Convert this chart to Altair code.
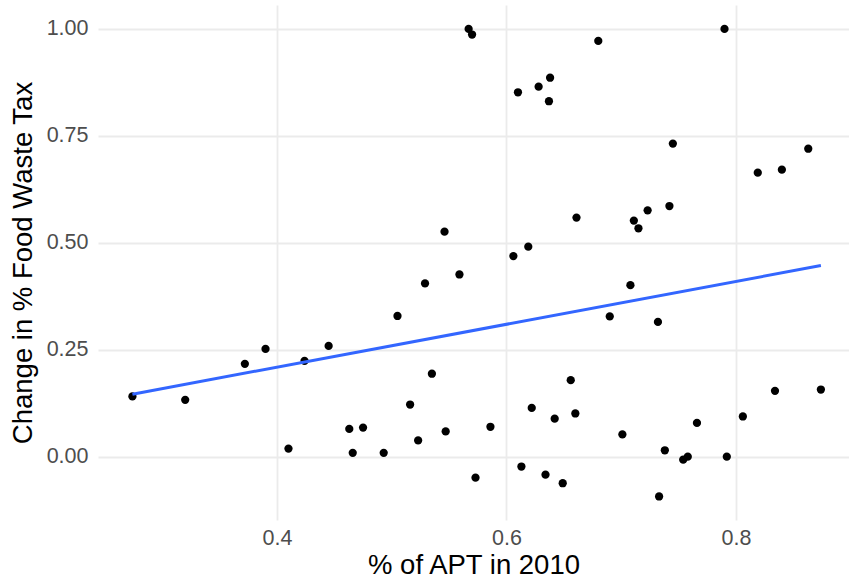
import altair as alt
import pandas as pd

# Share of apartments in 2010 (x) and change in food-waste tax share (y)
apt_2010 = [
    0.274, 0.320, 0.372, 0.390, 0.410, 0.424, 0.445, 0.463, 0.466, 0.475,
    0.493, 0.505, 0.516, 0.523, 0.529, 0.535, 0.546, 0.547, 0.559, 0.567,
    0.570, 0.573, 0.586, 0.606, 0.610, 0.613, 0.619, 0.622, 0.628, 0.634,
    0.637, 0.638, 0.642, 0.649, 0.656, 0.660, 0.661, 0.680, 0.690, 0.701,
    0.708, 0.711, 0.715, 0.723, 0.732, 0.733, 0.738, 0.742, 0.745, 0.754,
    0.758, 0.766, 0.790, 0.792, 0.806, 0.819, 0.834, 0.840, 0.863, 0.874,
]
tax_change = [
    0.141, 0.133, 0.217, 0.252, 0.019, 0.224, 0.259, 0.065, 0.009, 0.068,
    0.009, 0.329, 0.122, 0.038, 0.405, 0.194, 0.526, 0.059, 0.426, 1.000,
    0.987, -0.049, 0.070, 0.469, 0.852, -0.023, 0.491, 0.114, 0.865, -0.042,
    0.831, 0.886, 0.089, -0.062, 0.179, 0.101, 0.559, 0.972, 0.328, 0.052,
    0.401, 0.552, 0.534, 0.576, 0.315, -0.093, 0.015, 0.586, 0.732, -0.007,
    0.000, 0.079, 1.000, 0.000, 0.094, 0.664, 0.154, 0.671, 0.720, 0.157,
]

x_ticks = [0.4, 0.6, 0.8]
y_ticks = [0.0, 0.25, 0.5, 0.75, 1.0]

df = pd.DataFrame({"apt": apt_2010, "change": tax_change})

font = "Liberation Sans"

x_enc = alt.X(
    "apt:Q",
    title="% of APT in 2010",
    scale=alt.Scale(domain=[0.244, 0.8985], nice=False, zero=False),
    axis=alt.Axis(values=x_ticks, format=".1f", labelPadding=7, titlePadding=3),
)
y_enc = alt.Y(
    "change:Q",
    title="Change in % Food Waste Tax",
    scale=alt.Scale(domain=[-0.148, 1.056], nice=False, zero=False),
    axis=alt.Axis(values=y_ticks, format=".2f", labelPadding=10, titlePadding=9),
)

points = alt.Chart(df).mark_circle(size=68, color="black", opacity=1).encode(
    x=x_enc, y=y_enc
)

fit = (
    alt.Chart(df)
    .transform_regression("apt", "change")
    .mark_line(color="#3366FF", strokeWidth=3)
    .encode(x=x_enc, y=y_enc)
)

chart = (
    alt.layer(points, fit)
    .properties(
        width=751,
        height=515,
        autosize=alt.AutoSizeParams(type="none"),
        padding={"left": 98, "top": 5, "right": 0, "bottom": 65},
        background="white",
    )
    .configure_view(stroke=None)
    .configure_axis(
        domain=False,
        ticks=False,
        grid=True,
        gridColor="#EBEBEB",
        gridWidth=1.8,
        labelFont=font,
        labelFontSize=21.5,
        labelColor="#4D4D4D",
        titleFont=font,
        titleFontSize=27.5,
        titleFontWeight="normal",
        titleColor="black",
    )
)

chart.save("out.html", embed_options={"renderer": "svg", "actions": False})
